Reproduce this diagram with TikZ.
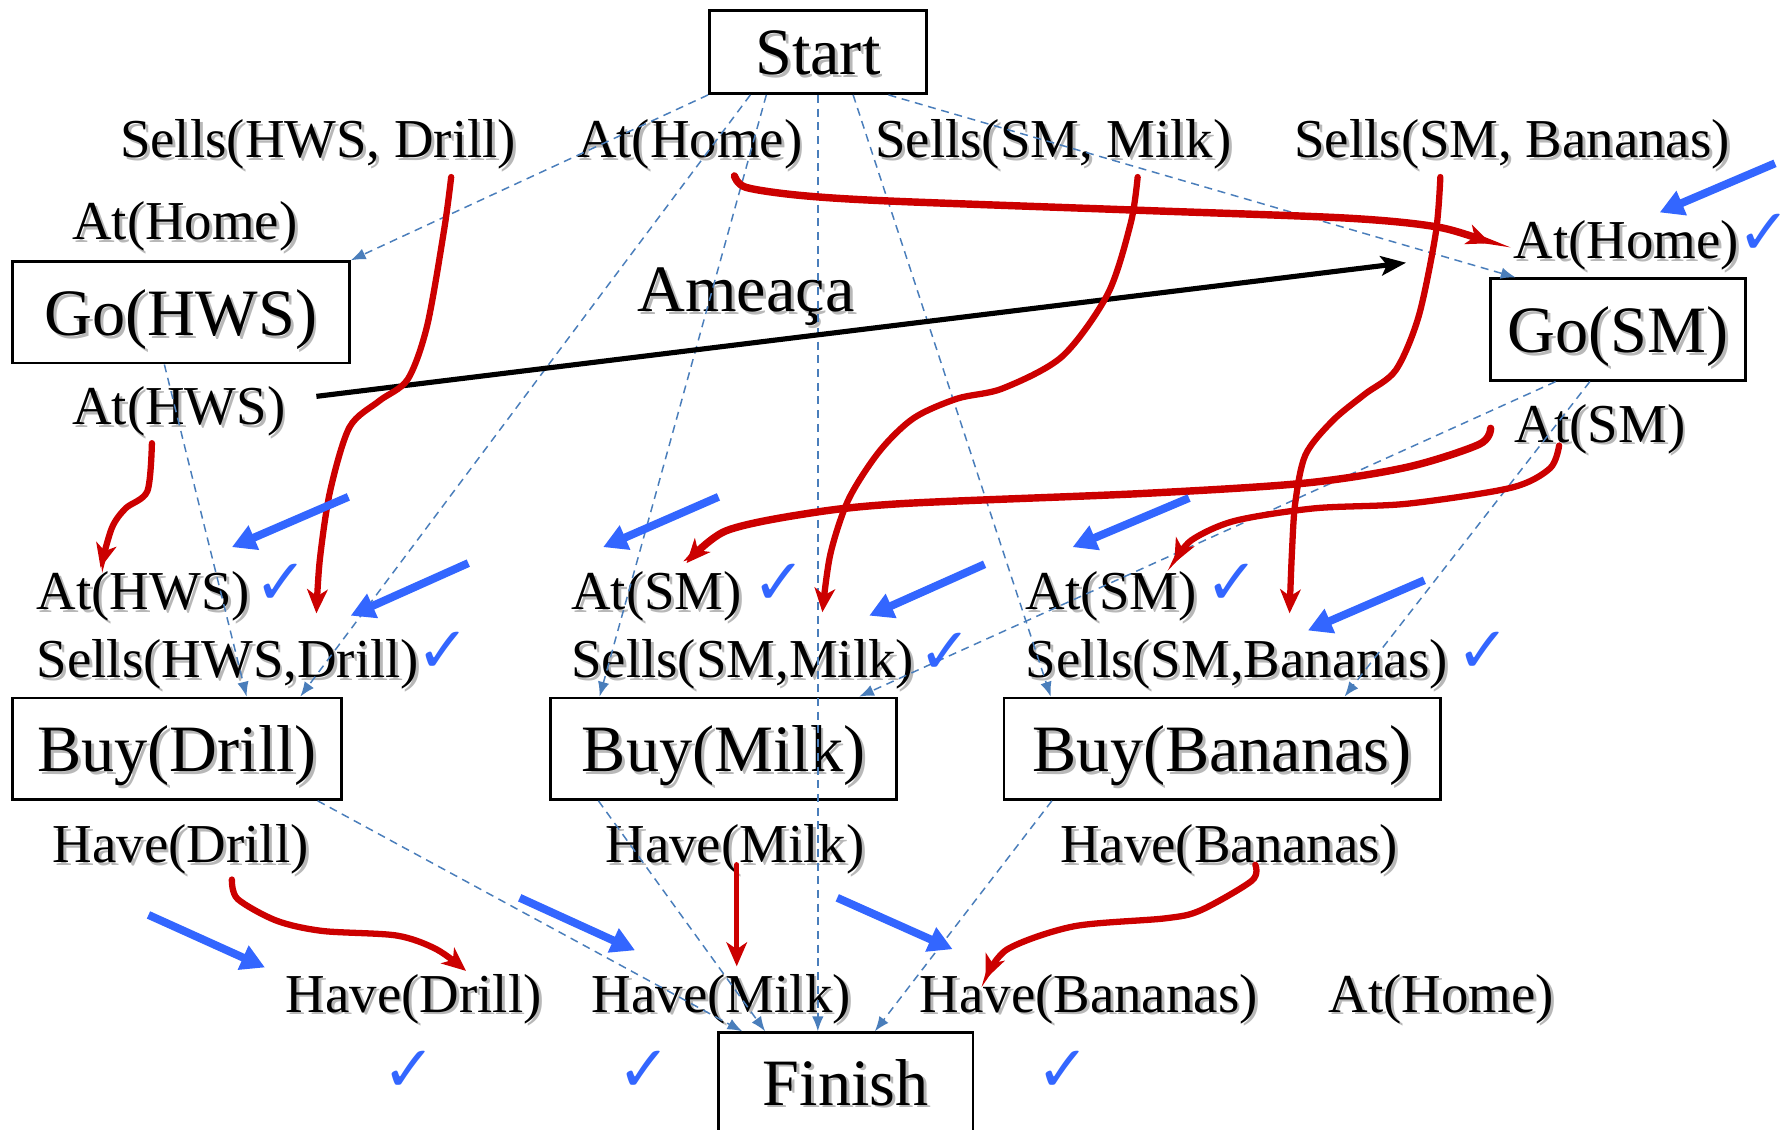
\documentclass[tikz,border=0pt]{standalone}
\usepackage{fontspec}
\setmainfont{Liberation Serif}
\newfontfamily\tickfont{DejaVu Sans}
\usetikzlibrary{arrows.meta,calc}
\definecolor{depblue}{HTML}{4A7EBB}
\definecolor{linkred}{HTML}{CC0000}
\definecolor{markblue}{HTML}{3366FF}
\colorlet{shadowgray}{black!28}

% label with a soft drop shadow: [style] {name} {position} {text}
\newcommand\shlabel[4][]{%
  \node[lbl,#1,text=shadowgray] at ($#3+(2.5,2.5)$) {#4};
  \node[lbl,#1] (#2) at #3 {#4};}
% action box with shadowed caption: {name} {centre} {width} {height} {text}
\newcommand\actnode[5]{%
  \node[acttext,text=shadowgray] at ($#2+(2.5,2.5)$) {#5};
  \node[actbox,minimum width=#3pt,minimum height=#4pt] (#1) at #2 {#5};}

\begin{document}
\begin{tikzpicture}[x=1pt,y=-1pt,
  lbl/.style={inner sep=0pt,anchor=base west,font=\fontsize{48}{50}\selectfont},
  big/.style={font=\fontsize{58}{60}\selectfont},
  acttext/.style={inner sep=0pt,text height=40pt,text depth=0pt,font=\fontsize{58}{60}\selectfont},
  actbox/.style={acttext,draw=black,line width=2.2pt},
  dep/.style={depblue,line width=1.3pt,dash pattern=on 7pt off 5pt,-{Latex[length=13pt,width=10pt]}},
  cl/.style={linkred,line width=5.5pt,line cap=round,-{Stealth[length=21pt,width=18pt,inset=6pt]}},
  hint/.style={markblue,line width=7pt,-{Triangle[length=21pt,width=22pt]}},
  tick/.style={text=markblue,inner sep=0pt,font=\tickfont\fontsize{56}{56}\selectfont},
  threat/.style={black,line width=4.5pt,-{Stealth[length=22pt,width=17pt,inset=5pt]}},
]
\useasboundingbox (0,0) rectangle (1568,989);

% ---- action boxes ----
\actnode{start}{(716,45.5)}{190}{73}{Start}
\actnode{goh}{(158.5,273.5)}{295}{89}{Go(HWS)}
\actnode{gos}{(1416.5,288.5)}{223}{89}{Go(SM)}
\actnode{buyd}{(155,655.5)}{288}{89}{Buy(Drill)}
\actnode{buym}{(633.5,655.5)}{303}{89}{Buy(Milk)}
\actnode{buyb}{(1070,655.5)}{382}{89}{Buy(Bananas)}
\actnode{finish}{(740.5,947.5)}{223}{87}{Finish}

% ---- literals ----
\shlabel{sSells}{(105,138)}{Sells(HWS, Drill)}
\shlabel{sHome}{(505,138)}{At(Home)}
\shlabel{sMilk}{(766,138)}{Sells(SM, Milk)}
\shlabel{sBan}{(1133,138)}{Sells(SM, Bananas)}
\shlabel{ghPre}{(63,210)}{At(Home)}
\shlabel{ghEff}{(63,372)}{At(HWS)}
\shlabel{gsPre}{(1325,226)}{At(Home)}
\shlabel{gsEff}{(1326,387)}{At(SM)}
\shlabel{bdPreA}{(32,534)}{At(HWS)}
\shlabel{bdPreB}{(32,593)}{Sells(HWS,Drill)}
\shlabel{bmPreA}{(500,534)}{At(SM)}
\shlabel{bmPreB}{(500,593)}{Sells(SM,Milk)}
\shlabel{bbPreA}{(898,534)}{At(SM)}
\shlabel{bbPreB}{(898,593)}{Sells(SM,Bananas)}
\shlabel{bdEff}{(46,755)}{Have(Drill)}
\shlabel{bmEff}{(530,755)}{Have(Milk)}
\shlabel{bbEff}{(928,755)}{Have(Bananas)}
\shlabel{fPreA}{(250,886)}{Have(Drill)}
\shlabel{fPreB}{(518,886)}{Have(Milk)}
\shlabel{fPreC}{(805,886)}{Have(Bananas)}
\shlabel{fPreD}{(1163,886)}{At(Home)}
\shlabel[big]{threatlbl}{(558,273)}{Ameaça}

% ---- ordering links ----
\draw[dep] (start.south west) -- (goh.north east);
\draw[dep] ($(start.south west)+(37,0)$) -- ($(buyd.north west)+(253,0)$);
\draw[dep] ($(start.south west)+(51,0)$) -- ($(buym.north west)+(44,0)$);
\draw[dep] (start.south) -- (start.south |- finish.north);
\draw[dep] ($(start.south west)+(127,0)$) -- ($(buyb.north west)+(42,0)$);
\draw[dep] ($(start.south west)+(158,0)$) -- ($(gos.north west)+(23,0)$);
\draw[dep] ($(goh.south west)+(134,0)$) -- ($(buyd.north west)+(206,0)$);
\draw[dep] ($(gos.south west)+(58,0)$) -- ($(buym.north east)+(-34,0)$);
\draw[dep] ($(gos.south west)+(88,0)$) -- ($(buyb.north east)+(-85,0)$);
\draw[dep] ($(buyd.south east)+(-22,0)$) -- ($(finish.north west)+(22,0)$);
\draw[dep] ($(buym.south west)+(43,0)$) -- ($(finish.north west)+(42,0)$);
\draw[dep] ($(buyb.south west)+(43,0)$) -- ($(finish.north west)+(138,0)$);

% ---- threat ----
\draw[threat] (277,347) -- (1231,230);

% ---- causal links ----
\draw[cl] plot[smooth] coordinates {(395,155) (389,200) (374,285) (357,332) (332,351) (306,374) (289,430) (280,490) (277,537)};
\draw[cl,line width=6.5pt] plot[smooth] coordinates {(643,154) (653,164) (700,171) (779,176) (995,184) (1180,191) (1260,199) (1305,213)};
\draw[cl] plot[smooth] coordinates {(996,155) (990,195) (970,257) (930,312) (878,340) (838,349) (800,366) (770,395) (743,437) (727,485) (720,536)};
\draw[cl] plot[smooth] coordinates {(1261,155) (1257,204) (1242,277) (1222,324) (1195,345) (1167,368) (1143,398) (1134,440) (1131,485) (1129,537)};
\draw[cl] plot[smooth] coordinates {(133,388) (129,430) (110,445) (98,462) (88,497)};
\draw[cl,line width=6.5pt] plot[smooth] coordinates {(1305,375) (1295,389) (1232,409) (1142,423) (1001,432) (788,441) (704,450) (635,465) (601,493)};
\draw[cl] plot[smooth] coordinates {(1365,390) (1357,410) (1323,427) (1232,441) (1151,445) (1081,456) (1043,473) (1028,493)};
\draw[cl] plot[smooth] coordinates {(203,770) (208,787) (242,806) (282,815) (347,819) (382,831) (408,850)};
\draw[cl,line width=4.5pt] (645,757) -- (645,846);
\draw[cl] plot[smooth] coordinates {(1099,757) (1096,771) (1051,797) (1020,804) (940,811) (882,831) (863,857)};

% ---- hint arrows ----
\draw[hint] (1554,143) -- (1453,186);
\draw[hint] (305,435) -- (203,479);
\draw[hint] (410,493) -- (307,539);
\draw[hint] (629,435) -- (528,479);
\draw[hint] (862,494) -- (761,539);
\draw[hint] (1041,436) -- (939,479);
\draw[hint] (1247,508) -- (1145,552);
\draw[hint] (130,801) -- (232,847);
\draw[hint] (455,786) -- (556,832);
\draw[hint] (733,786) -- (834,831);

% ---- satisfied marks ----
\node[tick] (tA) at (1545,205) {✓};
\node[tick] (tB) at (246,512) {✓};
\node[tick] (tC) at (388,571) {✓};
\node[tick] (tD) at (682,512) {✓};
\node[tick] (tE) at (828,572) {✓};
\node[tick] (tF) at (1079,512) {✓};
\node[tick] (tG) at (1299,571) {✓};
\node[tick] (tH) at (358,938) {✓};
\node[tick] (tI) at (564,938) {✓};
\node[tick] (tJ) at (931,938) {✓};
\end{tikzpicture}
\end{document}
